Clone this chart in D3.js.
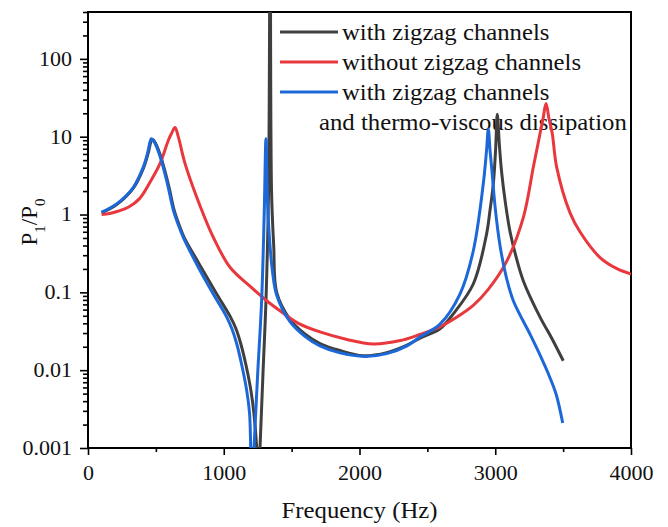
<!DOCTYPE html>
<html lang="en">
<head>
  <meta charset="UTF-8">
  <title>P1/P0 vs Frequency</title>
  <script src="https://d3js.org/d3.v7.min.js"></script>
  <style>
    body {
      margin: 0;
      background: #fff;
    }
    text {
      font-family: "Liberation Serif", "Times New Roman", serif;
      fill: #111;
    }
  </style>
</head>
<body>
  <div id="chart"></div>

  <script>
    // values: frequency (Hz) and P1/P0
    const blackF = [100, 211, 334, 410, 445, 460, 472, 486, 506, 531, 561, 598, 634, 671, 708, 820, 948, 1050, 1090, 1125, 1162, 1200, 1222, 1243, 1255, 1267, 1290, 1311, 1330, 1342, 1352, 1368, 1390, 1488, 1600, 1709, 1850, 2026, 2200, 2350, 2450, 2593, 2691, 2838, 2936, 2961, 2986, 3003, 3015, 3030, 3047, 3075, 3109, 3150, 3207, 3330, 3420, 3501];
    const blackV = [1.05, 1.34, 2.18, 4.0, 6.3, 8.2, 9.3, 8.9, 7.7, 5.9, 3.95, 2.2, 1.15, 0.74, 0.51, 0.23, 0.095, 0.048, 0.034, 0.022, 0.012, 0.0055, 0.0028, 0.001, 0.0003, 0.001, 0.01, 0.078, 2, 10000, 2, 0.4, 0.1, 0.045, 0.029, 0.022, 0.018, 0.0153, 0.0168, 0.021, 0.026, 0.034, 0.053, 0.128, 0.56, 1.12, 2.5, 7, 19.4, 8, 3.5, 1.4, 0.6, 0.3, 0.14, 0.048, 0.025, 0.0132];

    const redF = [100, 160, 220, 300, 380, 457, 530, 592, 615, 641, 665, 715, 801, 923, 1046, 1193, 1316, 1414, 1550, 1709, 1900, 2101, 2300, 2450, 2593, 2700, 2838, 2950, 3084, 3207, 3281, 3330, 3352, 3374, 3396, 3420, 3452, 3551, 3624, 3772, 3900, 4000];
    const redV = [1.0, 1.03, 1.1, 1.25, 1.6, 2.6, 4.5, 9.0, 11, 13.1, 10, 4.5, 1.67, 0.51, 0.21, 0.12, 0.078, 0.058, 0.04, 0.031, 0.025, 0.0217, 0.024, 0.029, 0.036, 0.046, 0.068, 0.11, 0.25, 0.92, 4.1, 11, 17, 26.6, 17, 11, 4.1, 1.05, 0.6, 0.28, 0.2, 0.172];

    const blueF = [100, 211, 334, 407, 440, 455, 466, 480, 500, 525, 555, 592, 628, 665, 702, 801, 923, 1022, 1060, 1095, 1131, 1169, 1190, 1199, 1211, 1223, 1250, 1279, 1298, 1311, 1322, 1338, 1360, 1390, 1488, 1600, 1709, 1850, 2040, 2200, 2350, 2450, 2593, 2740, 2838, 2912, 2936, 2949, 2962, 2973, 3000, 3035, 3080, 3133, 3256, 3320, 3403, 3450, 3497];
    const blueV = [1.07, 1.37, 2.24, 4.06, 6.3, 8.3, 9.4, 9.0, 7.8, 6.0, 4.0, 2.2, 1.15, 0.74, 0.51, 0.23, 0.095, 0.048, 0.034, 0.022, 0.012, 0.0055, 0.0028, 0.001, 0.0003, 0.001, 0.009, 0.078, 1, 9.4, 1.5, 0.46, 0.18, 0.092, 0.042, 0.027, 0.0205, 0.0168, 0.015, 0.0163, 0.0205, 0.027, 0.039, 0.095, 0.34, 2.5, 6.7, 12.5, 6.5, 4.1, 1.2, 0.4, 0.16, 0.078, 0.029, 0.017, 0.008, 0.0048, 0.0021];

    const seriesNames = ["with zigzag channels", "without zigzag channels", "with zigzag channels"];
    const seriesColors = ["#3f3f3f", "#e8383d", "#1d68d8"];
    const legendExtra = "and thermo-viscous dissipation";

    const xTicks = [0, 1000, 2000, 3000, 4000];
    const xMinor = [500, 1500, 2500, 3500];
    const yTicks = [0.001, 0.01, 0.1, 1, 10, 100];
    const yTickLabels = ["0.001", "0.01", "0.1", "1", "10", "100"];

    const width = 668, height = 527;
    const margin = {top: 12, right: 37, bottom: 79, left: 88};

    const svg = d3.select("#chart").append("svg")
        .attr("width", width)
        .attr("height", height);

    const x = d3.scaleLinear()
        .domain([0, 4000])
        .range([margin.left, width - margin.right]);

    const y = d3.scaleLog()
        .domain([0.001, 400])
        .range([height - margin.bottom, margin.top]);

    // minor log ticks 2..9 per decade
    const yMinor = [];
    yTicks.forEach(d => {
      for (let k = 2; k < 10; k++) {
        if (d * k <= 400) yMinor.push(d * k);
      }
    });

    svg.append("defs").append("clipPath")
        .attr("id", "plot-clip")
      .append("rect")
        .attr("x", margin.left)
        .attr("y", margin.top)
        .attr("width", width - margin.left - margin.right)
        .attr("height", height - margin.top - margin.bottom);

    // === Axes ===
    const yAxis = svg.append("g")
        .attr("transform", `translate(${margin.left},0)`)
        .call(d3.axisLeft(y).tickValues(yTicks).tickSize(8).tickSizeOuter(0)
          .tickFormat((d, i) => yTickLabels[i]));
    yAxis.selectAll("text")
        .attr("x", 0)
        .attr("transform", "translate(-16,0) scale(1.1,1)")
        .style("font-size", "20px");

    svg.append("g")
        .attr("transform", `translate(${margin.left},0)`)
        .call(d3.axisLeft(y).tickValues(yMinor).tickSize(5).tickSizeOuter(0).tickFormat(""));

    const xAxis = svg.append("g")
        .attr("transform", `translate(0,${height - margin.bottom})`)
        .call(d3.axisBottom(x).tickValues(xTicks).tickSize(7).tickSizeOuter(0)
          .tickFormat(d3.format("d")));
    xAxis.selectAll("text")
        .attr("y", 18)
        .attr("transform", "scale(1.1,1)")
        .style("font-size", "20px");

    svg.append("g")
        .attr("transform", `translate(0,${height - margin.bottom})`)
        .call(d3.axisBottom(x).tickValues(xMinor).tickSize(4).tickSizeOuter(0).tickFormat(""));

    svg.selectAll(".domain").remove();
    svg.selectAll(".tick line")
        .attr("stroke", "#000")
        .attr("stroke-width", 1.6);

    // frame
    svg.append("rect")
        .attr("x", margin.left)
        .attr("y", margin.top)
        .attr("width", width - margin.left - margin.right)
        .attr("height", height - margin.top - margin.bottom)
        .attr("fill", "none")
        .attr("stroke", "#000")
        .attr("stroke-width", 2);

    // axis titles
    svg.append("text")
        .attr("text-anchor", "middle")
        .attr("transform", `translate(${(margin.left + width - margin.right) / 2},518) scale(1.1,1)`)
        .style("font-size", "22.5px")
        .text("Frequency (Hz)");

    const yLabel = svg.append("text")
        .attr("text-anchor", "middle")
        .attr("transform", "translate(37,222) rotate(-90)")
        .style("font-size", "23px");
    yLabel.append("tspan").text("P");
    yLabel.append("tspan").attr("baseline-shift", "sub").style("font-size", "15px").text("1");
    yLabel.append("tspan").text("/P");
    yLabel.append("tspan").attr("baseline-shift", "sub").style("font-size", "15px").text("0");

    // === Legend ===
    const legend = svg.append("g");
    seriesNames.forEach((name, i) => {
      const ly = 32 + i * 30;
      legend.append("line")
          .attr("x1", 280).attr("x2", 338)
          .attr("y1", ly).attr("y2", ly)
          .attr("stroke", seriesColors[i])
          .attr("stroke-width", 3);
      legend.append("text")
          .attr("transform", `translate(342,${ly + 8}) scale(1.1,1)`)
          .style("font-size", "22.5px")
          .text(name);
    });
    legend.append("text")
        .attr("transform", `translate(319,${32 + 3 * 30 + 8}) scale(1.1,1)`)
        .style("font-size", "22.5px")
        .text(legendExtra);

    // === Curves ===
    const series = [
      {f: blackF, v: blackV, color: seriesColors[0]},
      {f: redF, v: redV, color: seriesColors[1]},
      {f: blueF, v: blueV, color: seriesColors[2]}
    ];

    const line = d3.line()
        .x(d => x(d[0]))
        .y(d => y(d[1]))
        .curve(d3.curveCatmullRom.alpha(0.5));

    svg.append("g")
        .attr("clip-path", "url(#plot-clip)")
      .selectAll("path")
      .data(series)
      .join("path")
        .attr("d", s => line(s.f.map((f, i) => [f, s.v[i]])))
        .attr("fill", "none")
        .attr("stroke", s => s.color)
        .attr("stroke-width", 3)
        .attr("stroke-linejoin", "round");
  </script>
</body>
</html>
